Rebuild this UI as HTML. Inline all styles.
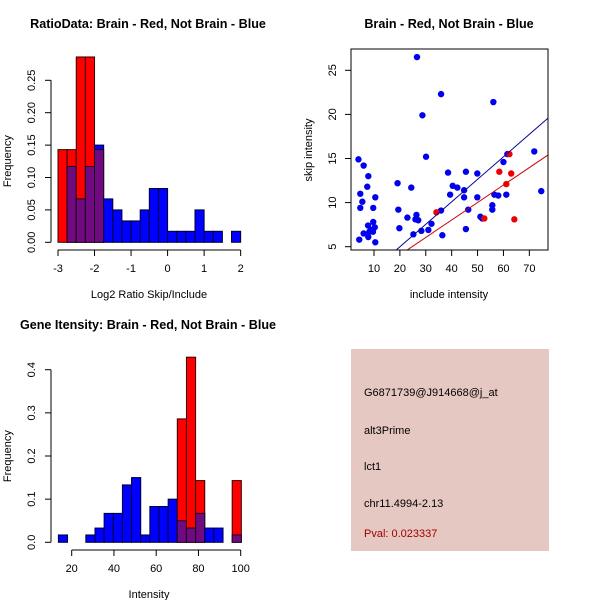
<!DOCTYPE html>
<html><head><meta charset="utf-8"><style>
body{margin:0;background:#fff;}
svg{display:block;font-family:"Liberation Sans",sans-serif;}
</style></head><body>
<svg id="c" width="600" height="600" viewBox="0 0 600 600">
<rect width="600" height="600" fill="#fff"/>
<text x="148" y="28" font-size="12.6" font-weight="bold" text-anchor="middle">RatioData: Brain - Red, Not Brain - Blue</text>
<text x="449" y="28" font-size="12.6" font-weight="bold" text-anchor="middle">Brain - Red, Not Brain - Blue</text>
<text x="148" y="329" font-size="12.6" font-weight="bold" text-anchor="middle">Gene Itensity: Brain - Red, Not Brain - Blue</text>
<g id="p1"></g>
<g id="p2"></g>
<g id="p3"></g>
<g>
<rect x="351" y="349" width="198" height="202" fill="#e6c8c2"/>
<text x="364" y="396" font-size="11">G6871739@J914668@j_at</text>
<text x="364" y="434" font-size="11">alt3Prime</text>
<text x="364" y="470" font-size="11">lct1</text>
<text x="364" y="507" font-size="11">chr11.4994-2.13</text>
<text x="364" y="537" font-size="11" fill="#a00000">Pval: 0.023337</text>
</g>
</svg>
<script>
// ---- Plot 1 data ----
const ratioBreaksStart = -3, ratioBinWidth = 0.25;
const ratioBlue = [0,0.117,0.067,0.117,0.15,0.067,0.05,0.033,0.033,0.05,0.083,0.083,0.017,0.017,0.017,0.05,0.017,0.017,0,0.017];
const ratioRed = [0.143,0.143,0.286,0.286,0.143,0,0,0,0,0,0,0,0,0,0,0,0,0,0,0];
const ratioXTicks = [-3,-2,-1,0,1,2];
const ratioYTicks = ["0.00","0.05","0.10","0.15","0.20","0.25"];
// ---- Plot 2 data ----
const blueX = [26.6,35.9,56.1,28.7,30.1,4.0,6.0,7.8,7.4,4.7,10.5,5.5,4.7,9.7,19.1,24.4,19.4,22.9,26.4,26.0,27.1,25.2,28.3,31.0,32.2,19.8,7.7,9.7,10.3,8.2,8.9,9.6,6.0,7.8,4.3,10.5,36.4,35.9,38.6,39.4,40.4,42.2,44.8,44.8,45.5,46.4,45.5,49.9,49.9,51.1,51.8,55.7,55.7,56.5,58.0,60.0,61.1,61.5,71.9,74.6];
const blueY = [26.5,22.3,21.4,19.9,15.2,14.9,14.2,13.0,11.8,11.0,10.6,10.1,9.4,9.4,12.2,11.7,9.2,8.3,8.6,8.1,8.0,6.4,6.8,6.9,7.6,7.1,7.4,7.8,7.2,6.7,6.9,6.7,6.5,6.1,5.8,5.5,6.3,9.1,13.4,10.9,11.9,11.7,11.4,10.6,13.5,9.2,7.0,13.3,10.6,8.4,8.2,9.7,9.2,10.9,10.8,14.6,10.9,15.5,15.8,11.3];
const redX = [34.1,52.6,58.4,61.1,62.3,63.0,64.2];
const redY = [8.9,8.2,13.5,12.1,15.5,13.3,8.1];
const blueFit = [-0.11,0.255]; // intercept, slope
const redFit = [0.11,0.198];
const scatterXTicks = [10,20,30,40,50,60,70];
const scatterYTicks = [5,10,15,20,25];
// ---- Plot 3 data ----
const intBreaksStart = 13.7, intBinWidth = 4.33;
const intBlue = [0.017,0,0,0.017,0.033,0.067,0.067,0.133,0.15,0.017,0.083,0.083,0.1,0.05,0.033,0.067,0.033,0.033,0,0.017];
const intRed = [0,0,0,0,0,0,0,0,0,0,0,0,0,0.286,0.429,0.143,0,0,0,0.143];
const intXTicks = [20,40,60,80,100];
const intYTicks = ["0.0","0.1","0.2","0.3","0.4"];

const NS="http://www.w3.org/2000/svg";
function mk(parent,tag,attrs,text){const e=document.createElementNS(NS,tag);for(const k in attrs)e.setAttribute(k,attrs[k]);if(text!==undefined)e.textContent=text;parent.appendChild(e);return e;}

function histogram(g,start,bw,blue,red,xs,ys,xticks,yticks,xlabel,yaxisTop,xaxisY){
  for(let i=0;i<blue.length;i++){
    const x0=xs(start+i*bw), x1=xs(start+(i+1)*bw);
    const b=blue[i], r=red[i], m=Math.min(b,r), M=Math.max(b,r);
    if(M<=0) continue;
    const col = b>=r ? "#0000ff" : "#ff0000";
    const bar=mk(g,"rect",{x:x0,y:ys(M),width:x1-x0,height:ys(0)-ys(M),fill:col,stroke:b>=r?"#000033":"#330000","stroke-width":1});
    
    
    if(m>0){
      const ov=mk(g,"rect",{x:x0,y:ys(m),width:x1-x0,height:ys(0)-ys(m),fill:"#700a80",stroke:"#200020","stroke-width":1});
      
      
    }
  }
  const yv=yticks.map(Number);
  const ax=51;
  mk(g,"line",{x1:ax,x2:ax,y1:ys(yv[0]),y2:ys(yv[yv.length-1]),stroke:"#000"});
  yv.forEach((v,i)=>{
    mk(g,"line",{x1:ax-6,x2:ax,y1:ys(v),y2:ys(v),stroke:"#000"});
    const t=mk(g,"text",{x:0,y:0,"font-size":11,"text-anchor":"middle",transform:`translate(${ax-16},${ys(v)}) rotate(-90)`},yticks[i]);
    
    
  });
  mk(g,"line",{x1:xs(xticks[0]),x2:xs(xticks[xticks.length-1]),y1:xaxisY,y2:xaxisY,stroke:"#000"});
  xticks.forEach(v=>{
    mk(g,"line",{x1:xs(v),x2:xs(v),y1:xaxisY,y2:xaxisY+6,stroke:"#000"});
    const t=mk(g,"text",{x:xs(v),y:xaxisY+22,"font-size":11,"text-anchor":"middle"},String(v));
    
    
  });
  const xl=mk(g,"text",{x:149,y:xaxisY+48,"font-size":11,"text-anchor":"middle"},xlabel);
  
  
  const cy=(ys(0)+yaxisTop)/2;
  const yl=mk(g,"text",{x:0,y:0,"font-size":11,"text-anchor":"middle",transform:`translate(11,${cy}) rotate(-90)`},"Frequency");
  
  
}

// Plot 1
{
  const g=document.getElementById("p1");
  const xs=v=>58+(v+3)*36.53;
  const ys=v=>242.3-v*648;
  histogram(g,ratioBreaksStart,ratioBinWidth,ratioBlue,ratioRed,xs,ys,ratioXTicks,ratioYTicks,"Log2 Ratio Skip/Include",80,250);
}
// Plot 3
{
  const g=document.getElementById("p3");
  const xs=v=>71.7+(v-20)*2.1125;
  const ys=v=>542.3-v*431.5;
  histogram(g,intBreaksStart,intBinWidth,intBlue,intRed,xs,ys,intXTicks,intYTicks,"Intensity",370,550);
}
// Plot 2
{
  const g=document.getElementById("p2");
  const L=351,R=548,T=49,B=250;
  const xs=v=>374+(v-10)*2.589;
  const ys=v=>246.7-(v-5)*8.82;
  const cp=mk(g,"clipPath",{id:"clip2"});mk(cp,"rect",{x:L,y:T,width:R-L,height:B-T});
  blueX.forEach((x,i)=>{
    const c=mk(g,"circle",{cx:xs(x),cy:ys(blueY[i]),r:3.2,fill:"#0000ee"});
    
    
  });
  redX.forEach((x,i)=>{
    const c=mk(g,"circle",{cx:xs(x),cy:ys(redY[i]),r:3.2,fill:"#ee0000"});
    
    
  });
  [[blueFit,"#000099","fit-line-not-brain"],[redFit,"#cc0000","fit-line-brain"]].forEach(([f,col,nm])=>{
    const x0=0,x1=90;
    const l=mk(g,"line",{x1:xs(x0),y1:ys(f[0]+f[1]*x0),x2:xs(x1),y2:ys(f[0]+f[1]*x1),stroke:col,"stroke-width":1,"clip-path":"url(#clip2)"});
    
    
  });
  mk(g,"rect",{x:L,y:T,width:R-L,height:B-T,fill:"none",stroke:"#000"});
  scatterXTicks.forEach(v=>{
    mk(g,"line",{x1:xs(v),x2:xs(v),y1:B,y2:B+6,stroke:"#000"});
    const t=mk(g,"text",{x:xs(v),y:B+22,"font-size":11,"text-anchor":"middle"},String(v));
    
    
  });
  scatterYTicks.forEach(v=>{
    mk(g,"line",{x1:L-6,x2:L,y1:ys(v),y2:ys(v),stroke:"#000"});
    const t=mk(g,"text",{x:0,y:0,"font-size":11,"text-anchor":"middle",transform:`translate(${L-15},${ys(v)}) rotate(-90)`},String(v));
    
    
  });
  const xl=mk(g,"text",{x:449,y:298,"font-size":11,"text-anchor":"middle"},"include intensity");
  
  
  const yl=mk(g,"text",{x:0,y:0,"font-size":11,"text-anchor":"middle",transform:`translate(312,150) rotate(-90)`},"skip intensity");
  
  
}
</script>
</body></html>
